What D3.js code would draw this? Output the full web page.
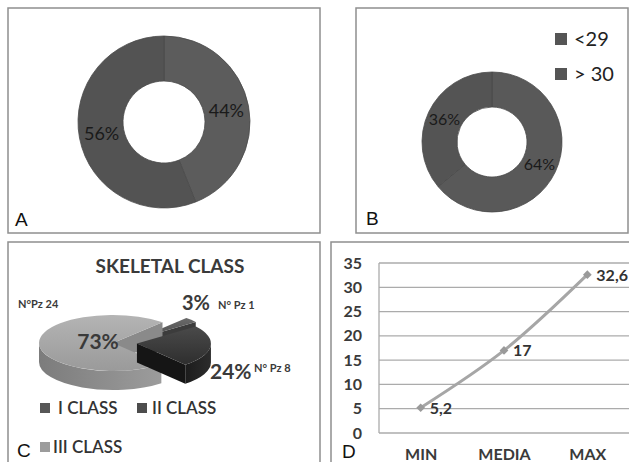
<!DOCTYPE html>
<html>
<head>
<meta charset="utf-8">
<script src="https://cdn.jsdelivr.net/npm/d3@7"></script>
<style>
  html, body { margin: 0; padding: 0; background: #fff; }
  svg { display: block; }
</style>
</head>
<body>
<div id="chart"></div>
<script>
// data
const donutA = [44, 56];
const donutB = [64, 36];
const legendB = ["<29", "> 30"];
const classNames = ["I CLASS", "II CLASS", "III CLASS"];
const classPct = [3, 24, 73];
const classN = ["N° Pz 1", "N° Pz 8", "N°Pz 24"];
const lineCats = ["MIN", "MEDIA", "MAX"];
const lineVals = [5.2, 17, 32.6];
const lineLabels = ["5,2", "17", "32,6"];
const yTicks = [0, 5, 10, 15, 20, 25, 30, 35];

const W = 629, H = 462;
const svg = d3.select("#chart").append("svg")
  .attr("width", W).attr("height", H)
  .attr("font-family", "Lato, 'Open Sans', sans-serif");

const defs = svg.append("defs");
function grad(id, c1, c2, vertical) {
  const g = defs.append("linearGradient").attr("id", id)
    .attr("x1", 0).attr("y1", 0).attr("x2", vertical ? 0 : 1).attr("y2", vertical ? 1 : 0);
  g.append("stop").attr("offset", "0%").attr("stop-color", c1);
  g.append("stop").attr("offset", "100%").attr("stop-color", c2);
}
grad("g3top", "#b4b4b4", "#9a9a9a", true);
grad("g3side", "#7c7c7c", "#9c9c9c", false);
grad("g2top", "#4a4a4a", "#2e2e2e", true);
grad("g2side", "#1c1c1c", "#2c2c2c", false);
grad("g1top", "#6a6a6a", "#4c4c4c", true);

// panel frames
const frames = [
  {x: 8, y: 8, w: 312, h: 225},
  {x: 356, y: 8, w: 272, h: 225},
  {x: 8, y: 242, w: 312, h: 230},
  {x: 331, y: 242, w: 310, h: 230}
];
svg.append("g").selectAll("rect").data(frames).join("rect")
  .attr("x", d => d.x).attr("y", d => d.y)
  .attr("width", d => d.w).attr("height", d => d.h)
  .attr("fill", "none").attr("stroke", "#8f8f8f").attr("stroke-width", 1.5);

// ---------- donuts ----------
function donut(vals, cx, cy, ro, ri, fills, fs) {
  const pie = d3.pie().sort(null)(vals);
  const arc = d3.arc().innerRadius(ri).outerRadius(ro);
  const g = svg.append("g").attr("transform", `translate(${cx},${cy})`);
  g.selectAll("path").data(pie).join("path")
    .attr("d", arc)
    .attr("fill", (d, i) => fills[i])
    .attr("stroke", "#4a4a4a").attr("stroke-width", 0.8);
  g.selectAll("text").data(pie).join("text")
    .attr("x", d => arc.centroid(d)[0])
    .attr("y", d => arc.centroid(d)[1])
    .attr("dy", "0.36em")
    .attr("text-anchor", "middle")
    .attr("font-size", fs)
    .attr("fill", "#1a1a1a")
    .text(d => d.data + "%");
}
donut(donutA, 164, 122, 86, 41, ["#5c5c5c", "#535353"], 18);
donut(donutB, 492, 142, 70, 35, ["#595959", "#545454"], 16);

// legend B
const lg = svg.append("g");
legendB.forEach((t, i) => {
  lg.append("rect").attr("x", 555).attr("y", 33 + i * 35).attr("width", 12).attr("height", 12)
    .attr("fill", "#555");
  lg.append("text").attr("x", 574).attr("y", 46 + i * 35)
    .attr("font-size", 20).attr("fill", "#222").text(t);
});

// ---------- 3D pie (C) ----------
svg.append("text").attr("x", 170).attr("y", 273).attr("text-anchor", "middle")
  .attr("font-size", 19).attr("font-weight", "bold").attr("fill", "#3a3a3a")
  .text("SKELETAL CLASS");

const rot = 42 * Math.PI / 180;
const pie3 = d3.pie().sort(null).startAngle(rot).endAngle(rot + 2 * Math.PI)(classPct);
const C = {x: 125, y: 343}, rx = 74, ry = 28, depth = 19;
const explode = [16, 12, 12];
const tops = ["url(#g1top)", "url(#g2top)", "url(#g3top)"];
const sides = ["#3a3a3a", "url(#g2side)", "url(#g3side)"];
const walls = ["#3c3c3c", "#151515", "#8a8a8a"];

const pc = svg.append("g");
function P(o, a) { return [o[0] + rx * Math.sin(a), o[1] - ry * Math.cos(a)]; }
function drawSlice(d, i) {
  const mid = (d.startAngle + d.endAngle) / 2;
  const o = [C.x + explode[i] * Math.sin(mid), C.y - explode[i] * (ry / rx) * Math.cos(mid)];
  const a0 = d.startAngle, a1 = d.endAngle;
  // radial walls facing the viewer
  [[a0, a0 - Math.PI / 2], [a1, a1 + Math.PI / 2]].forEach(([a, n]) => {
    if (Math.cos(n) < 0) {
      const p = P(o, a);
      pc.append("path").attr("fill", walls[i])
        .attr("d", `M${o}L${p}L${p[0]},${p[1] + depth}L${o[0]},${o[1] + depth}Z`);
    }
  });
  // outer curved side, front half only
  [[Math.PI / 2, 3 * Math.PI / 2], [Math.PI / 2 + 2 * Math.PI, 3 * Math.PI / 2 + 2 * Math.PI]].forEach(([lo, hi]) => {
    const s = Math.max(a0, lo), e = Math.min(a1, hi);
    if (e > s) {
      const ps = P(o, s), pe = P(o, e);
      pc.append("path").attr("fill", sides[i])
        .attr("d", `M${ps}A${rx},${ry} 0 0 1 ${pe}L${pe[0]},${pe[1] + depth}` +
          `A${rx},${ry} 0 0 0 ${ps[0]},${ps[1] + depth}Z`);
    }
  });
  const p0 = P(o, a0), p1 = P(o, a1);
  pc.append("path").attr("fill", tops[i])
    .attr("d", `M${o}L${p0}A${rx},${ry} 0 ${a1 - a0 > Math.PI ? 1 : 0} 1 ${p1}Z`);
}
[0, 2, 1].forEach(i => drawSlice(pie3[i], i));

// pie labels
const pl = svg.append("g").attr("font-weight", "bold").attr("fill", "#3a3a3a");
pl.append("text").attr("x", 98).attr("y", 349).attr("text-anchor", "middle")
  .attr("font-size", 21).text(classPct[2] + "%");
pl.append("text").attr("x", 182).attr("y", 310)
  .attr("font-size", 20).text(classPct[0] + "%");
pl.append("text").attr("x", 218).attr("y", 309)
  .attr("font-size", 11).text(classN[0]);
pl.append("text").attr("x", 210).attr("y", 379)
  .attr("font-size", 21).text(classPct[1] + "%");
pl.append("text").attr("x", 254).attr("y", 372)
  .attr("font-size", 11).text(classN[1]);
pl.append("text").attr("x", 18).attr("y", 308)
  .attr("font-size", 11).text(classN[2]);

// legend C
const legC = [
  {x: 40, y: 403, tx: 58, c: "#575757"},
  {x: 137, y: 403, tx: 152, c: "#4d4d4d"},
  {x: 40, y: 442, tx: 53, c: "#9c9c9c"}
];
classNames.forEach((t, i) => {
  const L = legC[i];
  svg.append("rect").attr("x", L.x).attr("y", L.y).attr("width", 10).attr("height", 10).attr("fill", L.c);
  svg.append("text").attr("x", L.tx).attr("y", L.y + 11).attr("font-size", 17)
    .attr("font-weight", 600).attr("fill", "#333").text(t);
});

// ---------- line chart (D) ----------
const x = d3.scalePoint().domain(lineCats).range([379, 629]).padding(0.5);
const y = d3.scaleLinear().domain([0, 35]).range([433, 263]);

const gd = svg.append("g");
gd.selectAll("line.grid").data(yTicks).join("line").attr("class", "grid")
  .attr("x1", 379).attr("x2", 629)
  .attr("y1", d => y(d)).attr("y2", d => y(d))
  .attr("stroke", "#ababab").attr("stroke-width", 1.3);
gd.append("line").attr("x1", 379).attr("x2", 379).attr("y1", y(35)).attr("y2", y(0))
  .attr("stroke", "#ababab").attr("stroke-width", 1.3);

const yAxis = gd.append("g").attr("transform", "translate(379,0)")
  .call(d3.axisLeft(y).tickValues(yTicks).tickSize(0).tickPadding(17));
yAxis.select(".domain").remove();
yAxis.selectAll("text").attr("font-family", "Lato, sans-serif").attr("font-size", 16)
  .attr("font-weight", "bold").attr("fill", "#3a3a3a");

const xAxis = gd.append("g").attr("transform", `translate(0,${y(0)})`)
  .call(d3.axisBottom(x).tickSize(0).tickPadding(16));
xAxis.select(".domain").remove();
xAxis.selectAll("text").attr("font-family", "Lato, sans-serif").attr("font-size", 16)
  .attr("font-weight", "bold").attr("fill", "#3a3a3a");

const pts = lineCats.map((c, i) => [x(c), y(lineVals[i])]);
gd.append("path").datum(pts)
  .attr("d", d3.line().curve(d3.curveCatmullRom.alpha(0.5)))
  .attr("fill", "none").attr("stroke", "#a6a6a6").attr("stroke-width", 3);
gd.selectAll("path.mk").data(pts).join("path").attr("class", "mk")
  .attr("transform", d => `translate(${d[0]},${d[1]}) rotate(45)`)
  .attr("d", d3.symbol(d3.symbolSquare, 38))
  .attr("fill", "#9a9a9a");
gd.selectAll("text.lbl").data(pts).join("text").attr("class", "lbl")
  .attr("x", d => d[0] + 9).attr("y", d => d[1] + 6)
  .attr("font-size", 16).attr("font-weight", "bold").attr("fill", "#333")
  .text((d, i) => lineLabels[i]);

// panel letters
svg.append("g").selectAll("text").data([
  {t: "A", x: 15, y: 226}, {t: "B", x: 366, y: 225},
  {t: "C", x: 17, y: 457}, {t: "D", x: 342, y: 458}
]).join("text")
  .attr("x", d => d.x).attr("y", d => d.y)
  .attr("font-family", "'Liberation Sans', Arial, sans-serif")
  .attr("font-size", 19).attr("fill", "#111").text(d => d.t);
</script>
</body>
</html>
